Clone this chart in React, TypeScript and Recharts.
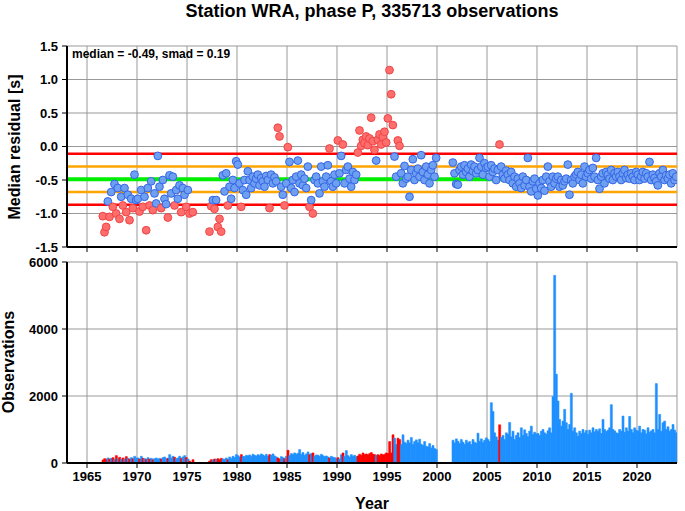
import React from 'react'
import { Bar, BarChart, CartesianGrid, Cell, ReferenceLine, Scatter, ScatterChart, XAxis, YAxis } from 'recharts'

const MEDIAN = -0.49
const SMAD = 0.19

const X_TICKS = [1965, 1970, 1975, 1980, 1985, 1990, 1995, 2000, 2005, 2010, 2015, 2020]
const RES_TICKS = [-1.5, -1, -0.5, 0, 0.5, 1, 1.5]
const OBS_TICKS = [0, 2000, 4000, 6000]

// two-month bins; each block starts at the year given in BLOCK_STARTS
const BLOCK_STARTS = [1966.5, 1970, 1980, 1990, 2000, 2010, 2020]

const res1960s = [
  -1.04, -1.28, -1.2, -0.82, -1.05, -0.68,
  -0.9, -0.56, -1.0, -0.62, -1.08, -0.75,
  -0.88, -0.62, -0.98, -0.72, -1.1, -0.78,
  -0.92, -0.42, -0.8,
]
const res1970s = [
  -0.78, -0.97, -0.65, -0.9, -0.75, -1.25,
  -0.62, -0.88, -0.52, -0.95, -0.7, -0.85,
  -0.14, -0.6, -0.92, -0.5, -0.78, -0.86,
  -1.06, -0.43, -0.7, -0.45, -0.88, -0.65,
  -0.78, -0.58, -0.98, -0.62, -0.72, -0.9,
  -0.65, -1.0, null, -0.98, null, null,
  null, null, null, null, null, null,
  null, -1.27, -0.89, -0.8, -0.93, -0.8,
  -1.2, -1.08, -1.27, -0.43, -0.67, -0.4,
  -0.88, -0.6, -0.78, -0.5, -0.62, -0.22,
]
const res1980s = [
  -0.27, -0.55, -0.9, -0.65, -0.5, -0.72,
  -0.37, -0.5, -0.62, -0.45, -0.55, -0.48,
  -0.42, -0.58, -0.47, -0.52, -0.6, -0.44,
  -0.5, -0.92, -0.42, -0.55, -0.46, -0.52,
  0.28, 0.15, -0.6, -0.72, -0.88, -0.55,
  -0.01, -0.23, -0.62, -0.5, -0.68, -0.45,
  -0.21, -0.55, -0.42, -0.58, -0.48, -0.62,
  -0.3, -0.9, -0.8, -1.0, -0.5, -0.45,
  -0.55, -0.7, -0.3, -0.52, -0.6, -0.45,
  -0.28, -0.03, -0.52, -0.6, -0.42, -0.55,
]
const res1990s = [
  0.09, -0.4, -0.14, 0.03, -0.55, -0.35,
  -0.3, -0.48, -0.6, -0.38, -0.5, -0.42,
  -0.09, 0.24, 0.01, 0.1, 0.05, 0.15,
  0.02, 0.12, 0.43, 0.08, -0.05, -0.21,
  0.1, 0.18, 0.03, 0.14, 0.22, 0.06,
  0.42, 1.14, 0.78, 0.32, -0.15, -0.45,
  0.09, 0.01, -0.4, -0.55, -0.29, -0.48,
  -0.45, -0.75, -0.35, -0.19, -0.5, -0.4,
  -0.33, -0.45, -0.13, -0.38, -0.5, -0.3,
  -0.42, -0.55, -0.35, -0.28, -0.45, -0.17,
]
const res2000s = [
  null, null, null, null, null, null,
  null, null, null, -0.24, -0.4, -0.56,
  -0.57, -0.35, -0.3, -0.42, -0.28, -0.38,
  -0.33, -0.45, -0.27, -0.37, -0.3, -0.4,
  -0.35, -0.17, -0.3, -0.42, -0.25, -0.32,
  -0.3, -0.45, -0.28, -0.38, -0.33, -0.5,
  -0.35, 0.03, -0.3, -0.42, -0.48, -0.36,
  -0.42, -0.5, -0.38, -0.55, -0.45, -0.6,
  -0.48, -0.55, -0.62, -0.45, -0.58, -0.5,
  -0.17, -0.6, -0.67, -0.52, -0.48, -0.63,
]
const res2010s = [
  -0.73, -0.55, -0.62, -0.5, -0.66, -0.45,
  -0.3, -0.52, -0.6, -0.45, -0.55, -0.48,
  -0.45, -0.6, -0.5, -0.58, -0.52, -0.48,
  -0.27, -0.72, -0.5, -0.55, -0.45, -0.42,
  -0.38, -0.5, -0.42, -0.55, -0.3, -0.45,
  -0.4, -0.35, -0.48, -0.32, -0.45, -0.17,
  -0.5, -0.63, -0.45, -0.4, -0.55, -0.38,
  -0.42, -0.48, -0.35, -0.5, -0.4, -0.45,
  -0.38, -0.45, -0.5, -0.4, -0.35, -0.47,
  -0.42, -0.48, -0.4, -0.45, -0.5, -0.38,
]
const res2020s = [
  -0.42, -0.5, -0.45, -0.38, -0.48, -0.4,
  -0.45, -0.23, -0.5, -0.42, -0.47, -0.52,
  -0.58, -0.4, -0.45, -0.35, -0.5, -0.43,
  -0.48, -0.42, -0.55, -0.4, -0.5, -0.45,
]

const obs1960s = [
  90, 130, 110, 150, 120, 140,
  160, 110, 220, 130, 170, 100,
  150, 120, 190, 140, 120, 160,
  130, 200, 150,
]
const obs1970s = [
  150, 120, 200, 140, 130, 110,
  160, 120, 140, 100, 130, 150,
  110, 140, 120, 160, 180, 130,
  140, 250, 150, 200, 170, 130,
  150, 200, 140, 180, 220, 160,
  120, 60, null, 100, null, null,
  null, null, null, null, null, null,
  null, 60, 100, 90, 120, 110,
  130, 100, 140, 120, 110, 150,
  100, 180, 130, 200, 160, 250,
]
const obs1980s = [
  220, 180, 250, 200, 190, 230,
  210, 240, 200, 260, 230, 210,
  250, 220, 270, 240, 210, 260,
  200, 250, 230, 270, 210, 180,
  150, 120, 190, 160, 130, 200,
  380, 220, 280, 250, 300, 260,
  290, 400, 260, 310, 230, 270,
  330, 250, 280, 300, 200, 240,
  230, 200, 260, 220, 190, 210,
  180, 150, 200, 170, 160, 140,
]
const obs1990s = [
  160, 120, 250, 300, 200, 370,
  220, 180, 250, 200, 230, 190,
  210, 260, 230, 300, 250, 270,
  240, 280, 310, 260, 250, 230,
  250, 220, 270, 240, 260, 300,
  280, 640, 300, 840, 740, 550,
  740, 700, 550, 840, 620, 580,
  680, 600, 760, 550, 640, 690,
  600, 710, 560, 520, 640, 500,
  480, 580, 450, 520, 430, 400,
]
const obs2000s = [
  null, null, null, null, null, null,
  null, null, null, 680, 600, 720,
  650, 580, 700, 620, 560, 680,
  600, 640, 550, 700, 620, 590,
  890, 650, 720, 610, 680, 750,
  700, 640, 1800, 1540, 900, 780,
  680, 1140, 760, 820, 700, 900,
  850, 1210, 780, 950, 700, 820,
  900, 760, 1050, 820, 990, 880,
  780, 950, 1100, 850, 920, 870,
]
const obs2010s = [
  880, 820, 950, 1000, 900, 860,
  960, 1050, 900, 1980, 5600, 2650,
  1850, 1300, 1100, 1250, 1600, 1200,
  1000, 1150, 2080, 950, 1050, 900,
  800, 950, 880, 1000, 900, 970,
  850, 980, 900, 1050, 930, 1000,
  950, 1020, 880, 1300, 1000, 940,
  980, 1050, 1740, 1000, 960, 900,
  880, 1000, 950, 1400, 920, 1050,
  950, 1390, 1000, 900, 1050, 980,
]
const obs2020s = [
  950, 1100, 900, 1000, 980, 870,
  1050, 920, 960, 1000, 900, 2370,
  1000, 1450, 950, 1200, 1250, 1000,
  1080, 950, 1000, 1150, 980, 900,
]

const resBlocks = [res1960s, res1970s, res1980s, res1990s, res2000s, res2010s, res2020s]
const obsBlocks = [obs1960s, obs1970s, obs1980s, obs1990s, obs2000s, obs2010s, obs2020s]

const rows = BLOCK_STARTS.flatMap((start, b) =>
  resBlocks[b].map((res, i) => ({ x: start + i / 6 + 1 / 12, res, obs: obsBlocks[b][i] })),
)

const isOutlier = (v: number | null) => v != null && (v > MEDIAN + 2 * SMAD || v < MEDIAN - 2 * SMAD)
const points = rows.filter((r) => r.res != null)

const FONT = 'Liberation Sans, Arial, Helvetica, sans-serif'
const tickStyle = { fill: '#000', fontSize: 13, fontWeight: 'bold', fontFamily: FONT }
const frame = { stroke: '#000', strokeWidth: 2 }
const noLabel = () => <g />

function Dot(props: any) {
  const out = isOutlier(props.payload.res)
  return (
    <circle
      cx={props.cx}
      cy={props.cy}
      r={3.9}
      fill={out ? '#ff6d6d' : '#6e9ff0'}
      stroke={out ? '#f04545' : '#3466e8'}
      strokeWidth={1}
    />
  )
}

export default function App() {
  return (
    <div style={{ position: 'absolute', left: 0, top: 0, width: 685, height: 511, background: '#fff', fontFamily: FONT }}>
      <div style={{ position: 'absolute', left: 0, top: 0 }}>
        <ScatterChart width={685} height={260} margin={{ top: 46, right: 8, bottom: 5, left: 7 }}>
          <CartesianGrid stroke="#999" strokeWidth={1} />
          <XAxis dataKey="x" type="number" domain={[1963, 2024]} ticks={X_TICKS} height={8} tick={noLabel} tickSize={5} axisLine={frame} tickLine={{ stroke: '#000' }} allowDataOverflow />
          <XAxis xAxisId="top" orientation="top" type="number" domain={[1963, 2024]} ticks={X_TICKS} height={0} tick={noLabel} tickSize={5} axisLine={frame} tickLine={{ stroke: '#000' }} />
          <YAxis dataKey="res" type="number" domain={[-1.5, 1.5]} ticks={RES_TICKS} width={60} tickSize={5} tickMargin={4} tick={tickStyle} tickFormatter={(v: number) => v.toFixed(1)} axisLine={frame} tickLine={{ stroke: '#000' }} allowDataOverflow />
          <YAxis yAxisId="right" orientation="right" type="number" domain={[-1.5, 1.5]} ticks={RES_TICKS} width={0} tick={noLabel} tickSize={5} axisLine={frame} tickLine={{ stroke: '#000' }} />
          <ReferenceLine y={MEDIAN + 2 * SMAD} stroke="#ff0000" strokeWidth={2.5} />
          <ReferenceLine y={MEDIAN + SMAD} stroke="#ffa500" strokeWidth={2.5} />
          <ReferenceLine y={MEDIAN} stroke="#00ee00" strokeWidth={4} />
          <ReferenceLine y={MEDIAN - SMAD} stroke="#ffa500" strokeWidth={2.5} />
          <ReferenceLine y={MEDIAN - 2 * SMAD} stroke="#ff0000" strokeWidth={2.5} />
          <Scatter data={points} dataKey="res" shape={Dot} isAnimationActive={false} />
        </ScatterChart>
      </div>
      <div style={{ position: 'absolute', left: 0, top: 250 }}>
        <BarChart width={685} height={261} data={rows} margin={{ top: 12, right: 8, bottom: 18, left: 7 }} barCategoryGap={0} barGap={0}>
          <CartesianGrid stroke="#999" strokeWidth={1} />
          <XAxis dataKey="x" type="number" domain={[1963, 2024]} ticks={X_TICKS} height={30} tickSize={5} tickMargin={4} tick={tickStyle} axisLine={frame} tickLine={{ stroke: '#000' }} allowDataOverflow />
          <XAxis xAxisId="top" orientation="top" type="number" domain={[1963, 2024]} ticks={X_TICKS} height={0} tick={noLabel} tickSize={5} axisLine={frame} tickLine={{ stroke: '#000' }} />
          <YAxis type="number" domain={[0, 6000]} ticks={OBS_TICKS} width={60} tickSize={5} tickMargin={4} tick={tickStyle} axisLine={frame} tickLine={{ stroke: '#000' }} allowDataOverflow />
          <YAxis yAxisId="right" orientation="right" type="number" domain={[0, 6000]} ticks={OBS_TICKS} width={0} tick={noLabel} tickSize={5} axisLine={frame} tickLine={{ stroke: '#000' }} />
          <Bar dataKey="obs" isAnimationActive={false}>
            {rows.map((r, i) => {
              const c = isOutlier(r.res) ? '#ff0000' : '#1e90ff'
              return <Cell key={i} fill={c} stroke={c} strokeWidth={0.6} />
            })}
          </Bar>
        </BarChart>
      </div>
      <svg width={685} height={511} style={{ position: 'absolute', left: 0, top: 0, pointerEvents: 'none' }} fontFamily={FONT} fontWeight="bold">
        <text x={372} y={17} textAnchor="middle" fontSize={18}>Station WRA, phase P, 335713 observations</text>
        <text x={72} y={58} fontSize={12}>median = -0.49, smad = 0.19</text>
        <text transform="translate(20,147) rotate(-90)" textAnchor="middle" fontSize={16}>Median residual [s]</text>
        <text transform="translate(14,362) rotate(-90)" textAnchor="middle" fontSize={16}>Observations</text>
        <text x={372} y={509} textAnchor="middle" fontSize={16}>Year</text>
      </svg>
    </div>
  )
}
